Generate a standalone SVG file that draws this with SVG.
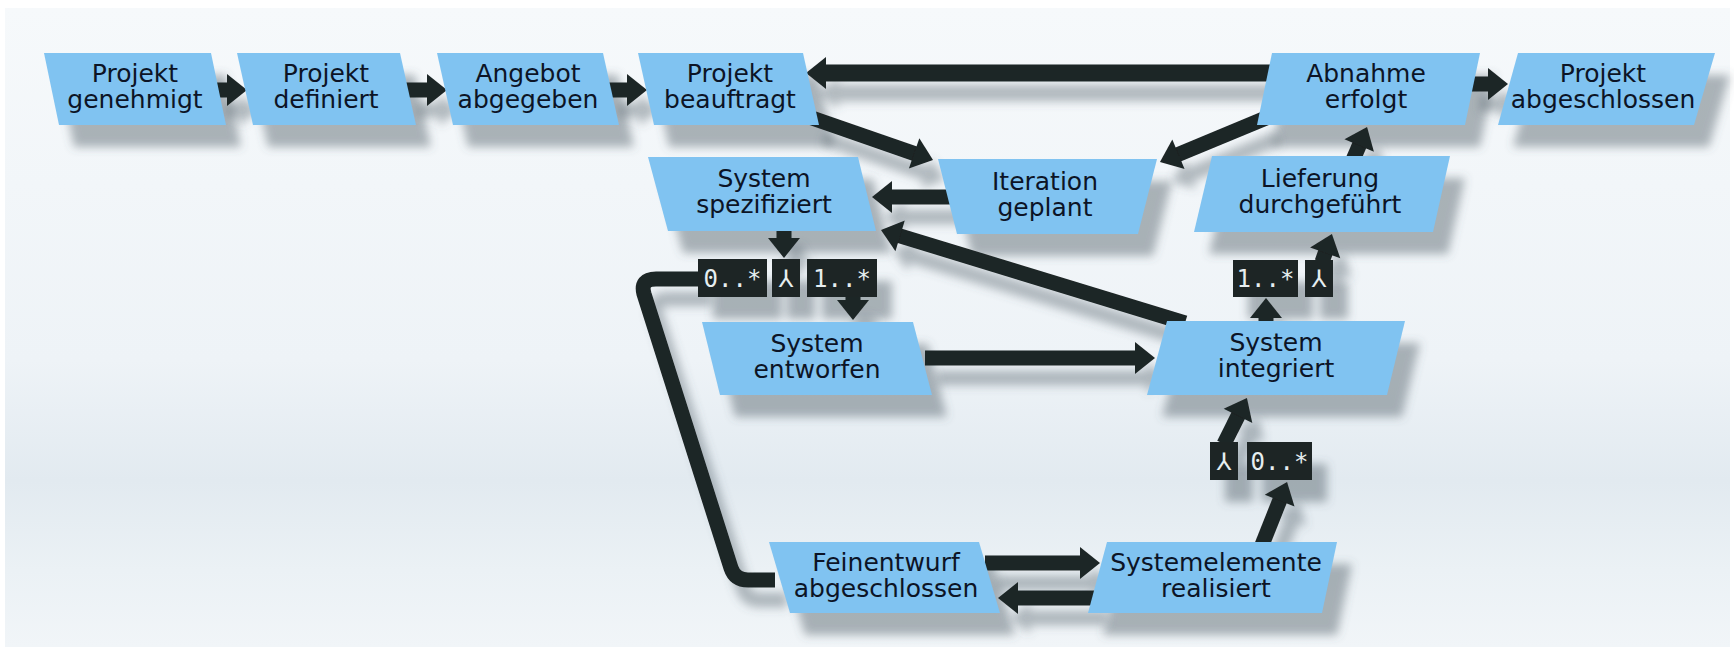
<svg xmlns="http://www.w3.org/2000/svg" xmlns:xlink="http://www.w3.org/1999/xlink" width="1734" height="651" viewBox="0 0 1734 651">
<defs>
<linearGradient id="bg" x1="0" y1="0" x2="0" y2="1">
<stop offset="0" stop-color="#f6f9fb"/>
<stop offset="0.55" stop-color="#eef3f7"/>
<stop offset="0.74" stop-color="#e2eaf0"/>
<stop offset="0.88" stop-color="#ebf1f5"/>
<stop offset="1" stop-color="#f1f5f8"/>
</linearGradient>
<filter id="so" x="-20%" y="-20%" width="160%" height="190%">
<feGaussianBlur in="SourceAlpha" stdDeviation="5"/>
<feOffset dx="15" dy="22" result="b"/>
<feFlood flood-color="#4f5d66" flood-opacity="0.45"/>
<feComposite in2="b" operator="in"/>
</filter>
<filter id="sh" x="-20%" y="-20%" width="160%" height="190%">
<feGaussianBlur in="SourceAlpha" stdDeviation="5"/>
<feOffset dx="12" dy="20" result="b"/>
<feFlood flood-color="#4f5d66" flood-opacity="0.4"/>
<feComposite in2="b" operator="in"/>
<feMerge><feMergeNode/><feMergeNode in="SourceGraphic"/></feMerge>
</filter>
<marker id="ah" markerUnits="userSpaceOnUse" markerWidth="20" markerHeight="32" refX="2" refY="16" orient="auto" overflow="visible">
<path d="M0,0 L20,16 L0,32 Z" fill="#1d2525"/>
</marker>
<style>
.node polygon{fill:#80c3f1;}
.node text{font-family:"DejaVu Sans","Liberation Sans",sans-serif;font-size:25px;fill:#0c1426;text-anchor:middle;}
.c{fill:none;stroke:#1d2525;stroke-width:15;}
.ca{fill:none;stroke:#1d2525;stroke-width:15;marker-end:url(#ah);}
.lb rect{fill:#1d2525;}
.lb text{font-family:"DejaVu Sans Mono","DejaVu Sans",monospace;font-size:24px;fill:#e6eef0;text-anchor:middle;}
.lb text.sym{font-family:"DejaVu Sans",sans-serif;}
</style>
</defs>
<rect x="0" y="0" width="1734" height="651" fill="#ffffff"/>
<rect x="5" y="8" width="1725" height="639" fill="url(#bg)"/>

<g id="shadows" filter="url(#so)">
<use xlink:href="#p1"/><use xlink:href="#p2"/><use xlink:href="#p3"/><use xlink:href="#p4"/>
<use xlink:href="#p5"/><use xlink:href="#p6"/><use xlink:href="#p7"/><use xlink:href="#p8"/>
<use xlink:href="#p9"/><use xlink:href="#p10"/><use xlink:href="#p11"/><use xlink:href="#p12"/>
<use xlink:href="#p13"/>
<use xlink:href="#r1"/><use xlink:href="#r2"/><use xlink:href="#r3"/><use xlink:href="#r4"/>
<use xlink:href="#r5"/><use xlink:href="#r6"/><use xlink:href="#r7"/>
</g>

<g id="connectors" filter="url(#sh)">
<line class="ca" x1="214" y1="90" x2="229" y2="90"/>
<line class="ca" x1="405" y1="90" x2="429" y2="90"/>
<line class="ca" x1="606" y1="90" x2="629" y2="90"/>
<line class="ca" x1="1280" y1="73" x2="824" y2="73" style="stroke-width:17"/>
<line class="ca" x1="812" y1="118" x2="916" y2="154.1"/>
<line class="ca" x1="1266" y1="118" x2="1176.6" y2="155.1"/>
<line class="ca" x1="950" y1="197" x2="890" y2="197"/>
<line class="ca" x1="1185" y1="323" x2="898.2" y2="235.3"/>
<line class="ca" x1="784" y1="226" x2="784" y2="240"/>
<line class="ca" x1="853" y1="296" x2="853" y2="302"/>
<path class="c" d="M700,279 L656,279 Q640,279 644,294 L731,568 Q735,580 748,580 L775,580"/>
<line class="ca" x1="925" y1="358" x2="1137" y2="358"/>
<line class="ca" x1="1266" y1="325" x2="1266" y2="316"/>
<line class="ca" x1="1322" y1="262" x2="1325.9" y2="251"/>
<line class="ca" x1="1353" y1="160" x2="1360" y2="143.6"/>
<line class="ca" x1="1468" y1="84" x2="1490" y2="84"/>
<line class="ca" x1="1262" y1="545" x2="1280.4" y2="498.7"/>
<line class="ca" x1="1224" y1="444" x2="1238.9" y2="414.1"/>
<line class="ca" x1="985" y1="563" x2="1082" y2="563"/>
<line class="ca" x1="1095" y1="598" x2="1016" y2="598"/>
</g>

<g id="labels">
<g id="lbl-top-0n" class="lb"><rect id="r1" x="698" y="259" width="69" height="38"/><text x="732.5" y="287">0..*</text></g>
<g id="lbl-top-and" class="lb"><rect id="r2" x="772" y="259" width="28" height="38"/><text class="sym" x="786" y="287">⅄</text></g>
<g id="lbl-top-1n" class="lb"><rect id="r3" x="807" y="259" width="70" height="38"/><text x="842" y="287">1..*</text></g>
<g id="lbl-right-1n" class="lb"><rect id="r4" x="1233" y="260" width="65" height="37"/><text x="1265.5" y="287">1..*</text></g>
<g id="lbl-right-and" class="lb"><rect id="r5" x="1305" y="260" width="28" height="37"/><text class="sym" x="1319" y="287">⅄</text></g>
<g id="lbl-bottom-and" class="lb"><rect id="r6" x="1210" y="442" width="28" height="38"/><text class="sym" x="1224" y="470">⅄</text></g>
<g id="lbl-bottom-0n" class="lb"><rect id="r7" x="1247" y="442" width="65" height="38"/><text x="1279.5" y="470">0..*</text></g>
</g>

<g id="n-projekt-genehmigt" class="node">
<polygon id="p1" points="44,53 211,53 226,125 59,125"/>
<text x="135" y="82">Projekt</text><text x="135" y="108">genehmigt</text>
</g>
<g id="n-projekt-definiert" class="node">
<polygon id="p2" points="237,53 400,53 416,125 253,125"/>
<text x="326" y="82">Projekt</text><text x="326" y="108">definiert</text>
</g>
<g id="n-angebot-abgegeben" class="node">
<polygon id="p3" points="437,53 603,53 619,125 453,125"/>
<text x="528" y="82">Angebot</text><text x="528" y="108">abgegeben</text>
</g>
<g id="n-projekt-beauftragt" class="node">
<polygon id="p4" points="638,53 803,53 819,125 654,125"/>
<text x="730" y="82">Projekt</text><text x="730" y="108">beauftragt</text>
</g>
<g id="n-abnahme-erfolgt" class="node">
<polygon id="p5" points="1272,53 1480,53 1465,125 1257,125"/>
<text x="1366" y="82">Abnahme</text><text x="1366" y="108">erfolgt</text>
</g>
<g id="n-projekt-abgeschlossen" class="node">
<polygon id="p6" points="1518,53 1715,53 1694,125 1498,125"/>
<text x="1603" y="82">Projekt</text><text x="1603" y="108">abgeschlossen</text>
</g>
<g id="n-system-spezifiziert" class="node">
<polygon id="p7" points="648,157 858,157 876,231 668,231"/>
<text x="764" y="187">System</text><text x="764" y="213">spezifiziert</text>
</g>
<g id="n-iteration-geplant" class="node">
<polygon id="p8" points="938,159 1157,159 1138,234 957,234"/>
<text x="1045" y="190">Iteration</text><text x="1045" y="216">geplant</text>
</g>
<g id="n-lieferung-durchgefuehrt" class="node">
<polygon id="p9" points="1212,156 1450,156 1433,232 1194,232"/>
<text x="1320" y="187">Lieferung</text><text x="1320" y="213">durchgeführt</text>
</g>
<g id="n-system-entworfen" class="node">
<polygon id="p10" points="702,322 913,322 932,395 720,395"/>
<text x="817" y="352">System</text><text x="817" y="378">entworfen</text>
</g>
<g id="n-system-integriert" class="node">
<polygon id="p11" points="1167,321 1405,321 1387,395 1147,395"/>
<text x="1276" y="351">System</text><text x="1276" y="377">integriert</text>
</g>
<g id="n-feinentwurf-abgeschlossen" class="node">
<polygon id="p12" points="769,542 979,542 1000,613 790,613"/>
<text x="886" y="571">Feinentwurf</text><text x="886" y="597">abgeschlossen</text>
</g>
<g id="n-systemelemente-realisiert" class="node">
<polygon id="p13" points="1107,542 1337,542 1322,613 1088,613"/>
<text x="1216" y="571">Systemelemente</text><text x="1216" y="597">realisiert</text>
</g>
</svg>
